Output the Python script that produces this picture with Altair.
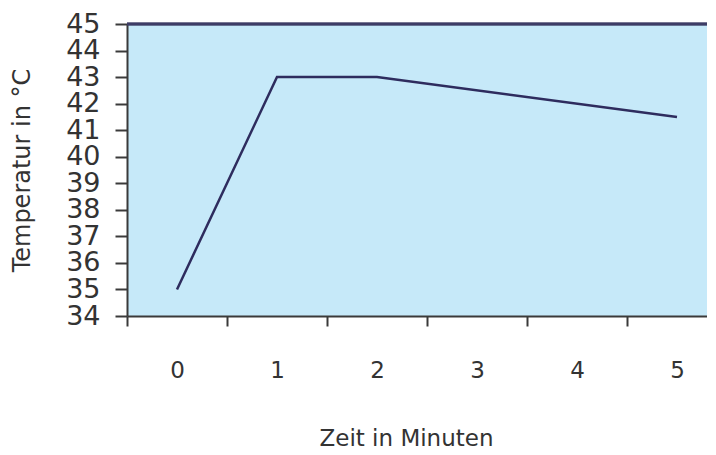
import altair as alt
import pandas as pd

minutes = [0, 1, 2, 5]
temps = [35, 43, 43, 41.5]
x_tick_positions = [-0.5, 0.5, 1.5, 2.5, 3.5, 4.5]
y_ticks = list(range(34, 46))

df = pd.DataFrame({"Zeit": minutes, "Temp": temps})

W, H = 580, 292
FONT = "DejaVu Sans"
AXC = "#3a3a3a"
TXT = "#333333"

line = alt.Chart(df).mark_line(color="#2E2C5E", strokeWidth=2.5).encode(
    x=alt.X(
        "Zeit:Q",
        scale=alt.Scale(domain=[-0.5, -0.5 + W / 100.0], nice=False, zero=False),
        axis=alt.Axis(
            values=x_tick_positions,
            labelExpr="format(datum.value + 0.5, 'd')",
            labelOffset=50,
            tickSize=10,
            tickWidth=2,
            domainWidth=2,
            domainColor=AXC,
            tickColor=AXC,
            labelPadding=33,
            labelFontSize=23,
            labelFont=FONT,
            labelColor=TXT,
            labelFlush=False,
            labelOverlap=False,
            labelBound=False,
            grid=False,
            title="Zeit in Minuten",
            titleFont=FONT,
            titleFontSize=23,
            titleFontWeight="normal",
            titleColor=TXT,
            titleX=279,
            titleY=129,
            titleBaseline="alphabetic",
        ),
    ),
    y=alt.Y(
        "Temp:Q",
        scale=alt.Scale(domain=[34, 45], nice=False, zero=False),
        axis=alt.Axis(
            values=y_ticks,
            tickSize=12,
            tickWidth=2,
            domainWidth=2,
            domainColor=AXC,
            tickColor=AXC,
            labelPadding=15,
            labelFontSize=27,
            labelFont=FONT,
            labelColor=TXT,
            labelOverlap=False,
            labelFlush=False,
            labelBound=False,
            grid=False,
            title="Temperatur in °C",
            titleFont=FONT,
            titleFontSize=24,
            titleFontWeight="normal",
            titleColor=TXT,
            titleX=-105,
            titleBaseline="middle",
        ),
    ),
)

top_border = alt.Chart(df).mark_rule(color="#3d3c66", strokeWidth=2.5).encode(
    x=alt.value(0), x2=alt.value(W), y=alt.value(0)
)

chart = alt.layer(line, top_border).properties(
    width=W,
    height=H,
    autosize=alt.AutoSizeParams(type="none"),
    padding={"left": 119, "top": 16, "right": 0, "bottom": 130},
).configure_view(fill="#C6E9F9", stroke=None)

chart.save("out.html", embed_options={"renderer": "svg", "actions": False})
